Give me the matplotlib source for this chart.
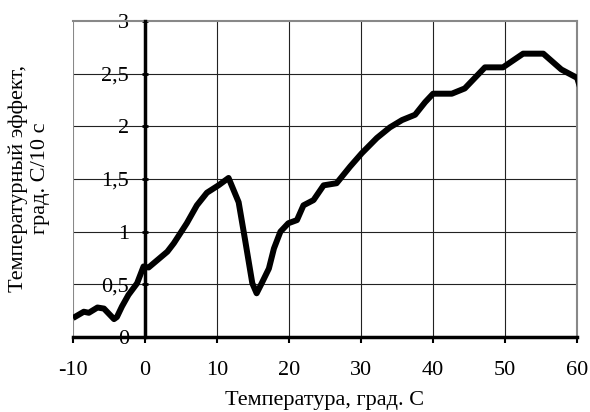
import matplotlib.pyplot as plt
from matplotlib.ticker import FixedLocator, FixedFormatter

# temperature effect vs temperature
temp = [-10, -8.5, -7.8, -6.6, -5.7, -4.3, -3.9, -3.2, -2.3, -1.1, -0.2, 0.5,
        3.1, 4.0, 5.8, 7.2, 8.6, 10.2, 11.6, 13.0, 13.9, 14.9, 15.5, 16.2,
        17.2, 17.9, 18.8, 19.9, 21.1, 22.0, 23.4, 24.8, 26.6, 28.5, 30.1,
        32.2, 34.0, 35.7, 37.5, 38.9, 40.0, 42.6, 44.4, 47.2, 49.7, 52.5,
        55.3, 57.8, 60.0, 60.5]
effect = [0.18, 0.24, 0.23, 0.28, 0.27, 0.17, 0.19, 0.29, 0.40, 0.51, 0.67, 0.66,
          0.81, 0.89, 1.08, 1.25, 1.37, 1.44, 1.51, 1.28, 0.92, 0.51, 0.415, 0.51,
          0.65, 0.84, 1.00, 1.08, 1.11, 1.25, 1.30, 1.44, 1.46, 1.62, 1.745,
          1.89, 1.99, 2.06, 2.11, 2.23, 2.31, 2.31, 2.36, 2.56, 2.56, 2.69,
          2.69, 2.54, 2.46, 2.35]

x_ticks = [-10, 0, 10, 20, 30, 40, 50, 60]
y_ticks = [0, 0.5, 1, 1.5, 2, 2.5, 3]
y_tick_labels = ["0", "0,5", "1", "1,5", "2", "2,5", "3"]

plt.rcParams["font.family"] = ["Liberation Serif", "DejaVu Serif"]
plt.rcParams["axes.unicode_minus"] = False

fig = plt.figure(figsize=(5.9, 4.12), dpi=100)
ax = fig.add_axes([0.1237, 0.182, 0.8545, 0.767])

ax.set_xlim(-10, 60)
ax.set_ylim(0, 3)

# grid
for xv in x_ticks[1:-1]:
    ax.axvline(xv, color="#222222", lw=0.8, zorder=1)
for yv in y_ticks[1:-1]:
    ax.axhline(yv, color="#222222", lw=0.8, zorder=1)
ax.axvline(-10, color="#888888", lw=1.5, zorder=1)

ax.plot(temp, effect, color="black", lw=4.3, solid_joinstyle="round",
        solid_capstyle="butt", zorder=3)

# axes lines
ax.spines["left"].set_position(("data", 0))
ax.spines["left"].set_linewidth(2.5)
ax.spines["bottom"].set_linewidth(2.5)
ax.spines["left"].set_zorder(4)
ax.spines["bottom"].set_zorder(4)
for s in ["top", "right"]:
    ax.spines[s].set_color("#888888")
    ax.spines[s].set_linewidth(1.5)

ax.xaxis.set_major_locator(FixedLocator(x_ticks))
ax.yaxis.set_major_locator(FixedLocator(y_ticks))
ax.yaxis.set_major_formatter(FixedFormatter(y_tick_labels))
ax.tick_params(axis="x", direction="out", length=4, width=1.5, pad=13,
               labelsize=16)
ax.tick_params(axis="y", direction="inout", length=5, width=2, pad=9,
               labelsize=16)

fig.text(0.5508, 0.027, "Температура, град. С", ha="center", va="center",
         fontsize=16)
fig.text(0.05, 0.567, "Температурный эффект,\nград. С/10 с", ha="center",
         va="center", rotation=90, fontsize=16, linespacing=1.2)

fig.savefig("out.png", dpi=100)
